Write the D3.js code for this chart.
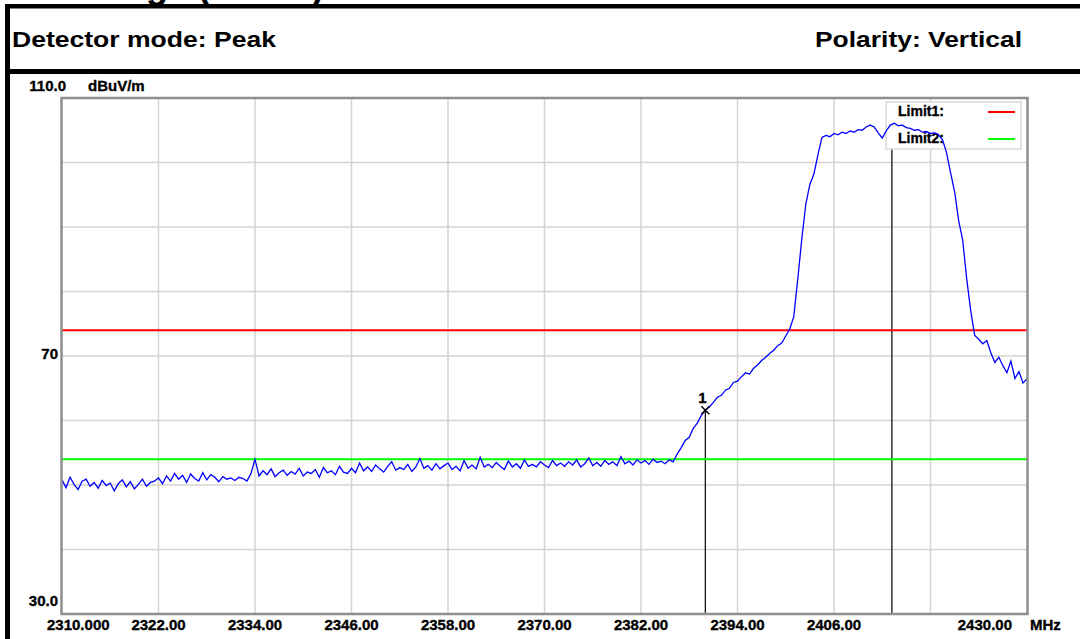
<!DOCTYPE html>
<html>
<head>
<meta charset="utf-8">
<script src="https://cdn.jsdelivr.net/npm/d3@7"></script>
<style>
  body { margin: 0; background: #ffffff; }
  svg { display: block; }
  .hdr { font-family: "Liberation Sans", Arial, sans-serif; font-weight: bold; fill: #000; }
  .axis-txt { font-family: "Liberation Sans", Arial, sans-serif; font-weight: bold; font-size: 15px; fill: #000; stroke: #000; stroke-width: 0.35px; }
</style>
</head>
<body>
<svg id="chart" width="1080" height="639"></svg>
<script>
// Trace: peak detector readings, one every 0.5 MHz from 2310 MHz
const freqStart = 2310;
const freqStep = 0.5;
const traceLevels = [
  // 2310.0 - 2321.5
  50.8, 49.6, 51.2, 50.1, 49.3, 50.6, 50.9, 49.8, 50.4, 49.5, 50.7, 49.9, 50.3, 49.1, 50.2, 50.8, 49.7, 50.5, 49.4, 50.1, 50.9, 49.8, 50.4, 50.6,
  // 2322.0 - 2333.5
  51.1, 50.2, 51.4, 50.6, 51.8, 50.9, 51.5, 50.4, 51.7, 51.0, 50.6, 51.9, 50.8, 51.6, 51.2, 50.5, 51.3, 50.9, 51.1, 50.7, 51.2, 51.0, 50.6, 51.8,
  // 2334.0 - 2345.5
  54.0, 51.4, 52.2, 51.6, 52.5, 51.3, 51.9, 52.3, 51.5, 52.1, 51.7, 52.6, 51.4, 52.0, 51.8, 52.4, 51.2, 52.7, 51.9, 52.2, 51.6, 52.9, 52.0, 51.8,
  // 2346.0 - 2357.5
  52.6, 51.9, 53.4, 52.2, 52.8, 52.1, 53.1, 52.5, 52.0, 52.9, 53.6, 52.3, 52.7, 52.4, 53.2, 52.1, 52.8, 54.1, 52.6, 53.0, 52.3, 53.3, 52.5, 53.0,
  // 2358.0 - 2369.5
  53.4, 52.4, 52.9, 52.2, 53.8, 52.6, 53.1, 52.5, 54.3, 52.8, 53.2, 52.7, 53.5, 52.9, 52.4, 53.7, 52.8, 53.3, 52.6, 53.9, 52.9, 53.2, 52.8, 53.6,
  // 2370.0 - 2381.5
  53.1, 52.7, 53.8, 53.0, 53.4, 52.9, 53.6, 53.1, 53.9, 52.8, 53.3, 54.2, 53.0, 53.5, 52.9, 53.8, 53.2, 53.6, 53.0, 54.4, 53.3, 53.7, 53.1, 53.9,
  // 2382.0 - 2393.5
  53.4, 53.8, 53.2, 54.0, 53.5, 53.7, 53.3, 53.9, 53.6, 54.8, 55.8, 56.9, 57.4, 58.8, 59.6, 60.8, 61.6, 62.1, 62.8, 63.6, 63.9, 64.7, 65.0, 65.9,
  // 2394.0 - 2405.5
  66.1, 66.8, 67.4, 67.2, 68.1, 68.6, 69.3, 69.8, 70.4, 70.9, 71.6, 72.0, 73.1, 74.2, 76.1, 82.0, 88.2, 93.6, 96.6, 98.2, 101.2, 103.9, 104.2, 104.0,
  // 2406.0 - 2417.5
  104.5, 104.3, 104.7, 104.5, 104.9, 104.7, 105.1, 105.0, 105.5, 105.8, 105.5, 104.6, 103.8, 104.9, 105.8, 106.1, 105.7, 105.8, 105.4, 105.3, 105.0, 105.1, 104.7, 104.8,
  // 2418.0 - 2429.5
  104.5, 104.6, 104.3, 103.5, 101.5, 98.4, 95.5, 91.0, 88.0, 82.0, 77.0, 73.2, 72.6, 71.9, 72.4, 70.5, 69.0, 69.8, 68.5, 67.4, 69.2, 66.5, 67.6, 65.8,
  // 2430.0
  66.5
];

// Limit lines
const limitNames = ["Limit1:", "Limit2:"];
const limitValues = [74, 54];

// Markers (MHz)
const markerFreqs = [2390, 2413.2];
const markerNames = ["1", ""];

// Axis ticks
const xTickValues = [2310, 2322, 2334, 2346, 2358, 2370, 2382, 2394, 2406, 2418, 2430];
const xTickLabels = ["2310.000", "2322.00", "2334.00", "2346.00", "2358.00", "2370.00", "2382.00", "2394.00", "2406.00", "", "2430.00"];
const yTickValues = [30, 40, 50, 60, 70, 80, 90, 100, 110];
const yLabelValues = [110, 70, 30];
const yLabelTexts = ["110.0", "70", "30.0"];

// Header texts
const titleText = "Band Edge (CH 01)";
const detectorText = "Detector mode: Peak";
const polarityText = "Polarity: Vertical";

const limitColors = ["#ff0000", "#00ff00"];

function draw_chart() {

    let svg = d3.select('#chart');

    // plot area
    let left = 62, right = 1027, top = 98, bottom = 614;

    let xScale = d3.scaleLinear().domain([2310, 2430]).range([left, right]);
    let yScale = d3.scaleLinear().domain([30, 110]).range([bottom, top]);

    let traceData = traceLevels.map((v, i) => ({ f: freqStart + i * freqStep, v: v }));

    // ---- header boxes ----
    // title line sits above the page edge, only its lower part shows
    svg.append('text')
        .attr('class', 'hdr')
        .attr('x', 0).attr('y', -2)
        .attr('font-size', 36)
        .text(titleText);

    svg.append('rect').attr('x', 5).attr('y', 4).attr('width', 1080).attr('height', 4.5).attr('fill', '#000');
    svg.append('rect').attr('x', 5).attr('y', 69).attr('width', 1080).attr('height', 5).attr('fill', '#000');
    svg.append('rect').attr('x', 5).attr('y', 4).attr('width', 5).attr('height', 640).attr('fill', '#000');

    svg.append('text')
        .attr('class', 'hdr')
        .attr('x', 12).attr('y', 47)
        .attr('font-size', 22)
        .attr('textLength', 264)
        .attr('lengthAdjust', 'spacingAndGlyphs')
        .text(detectorText);

    svg.append('text')
        .attr('class', 'hdr')
        .attr('x', 815).attr('y', 47)
        .attr('font-size', 22)
        .attr('textLength', 207)
        .attr('lengthAdjust', 'spacingAndGlyphs')
        .text(polarityText);

    // ---- plot background + grid ----
    svg.append('rect')
        .attr('x', left).attr('y', top)
        .attr('width', right - left).attr('height', bottom - top)
        .attr('fill', '#ffffff');

    svg.append('g')
        .selectAll('line')
        .data(xTickValues.slice(1, -1))
        .join('line')
        .attr('x1', d => xScale(d)).attr('x2', d => xScale(d))
        .attr('y1', top).attr('y2', bottom)
        .attr('stroke', '#d6d3ce')
        .attr('stroke-width', 1.5);

    svg.append('g')
        .selectAll('line')
        .data(yTickValues.slice(1, -1))
        .join('line')
        .attr('x1', left).attr('x2', right)
        .attr('y1', d => yScale(d)).attr('y2', d => yScale(d))
        .attr('stroke', '#d6d3ce')
        .attr('stroke-width', 1.5);

    // ---- marker lines (behind legend) ----
    svg.append('g')
        .selectAll('line')
        .data(markerFreqs)
        .join('line')
        .attr('x1', d => xScale(d)).attr('x2', d => xScale(d))
        .attr('y1', d => yScale(valueAt(traceData, d))).attr('y2', bottom)
        .attr('stroke', '#000').attr('stroke-width', 1.2);

    // ---- limit lines ----
    svg.append('g')
        .selectAll('line')
        .data(limitValues)
        .join('line')
        .attr('x1', left).attr('x2', right)
        .attr('y1', d => yScale(d)).attr('y2', d => yScale(d))
        .attr('stroke', (d, i) => limitColors[i])
        .attr('stroke-width', 2);

    // ---- legend box ----
    let legend = svg.append('g').attr('transform', 'translate(886,102)');
    legend.append('rect')
        .attr('width', 135).attr('height', 47)
        .attr('fill', '#ffffff')
        .attr('stroke', '#dcdad5')
        .attr('stroke-width', 1.5);

    legend.selectAll('text')
        .data(limitNames)
        .join('text')
        .attr('class', 'axis-txt')
        .style('font-size', '14px')
        .attr('x', 12)
        .attr('y', (d, i) => 14 + i * 27)
        .text(d => d);

    legend.selectAll('line')
        .data(limitNames)
        .join('line')
        .attr('x1', 102).attr('x2', 129)
        .attr('y1', (d, i) => 10 + i * 27).attr('y2', (d, i) => 10 + i * 27)
        .attr('stroke', (d, i) => limitColors[i])
        .attr('stroke-width', 2);

    // ---- trace ----
    let line = d3.line()
        .x(d => xScale(d.f))
        .y(d => yScale(d.v));

    svg.append('path')
        .datum(traceData)
        .attr('d', line)
        .attr('fill', 'none')
        .attr('stroke', '#0000ff')
        .attr('stroke-width', 1.3);

    // ---- marker 1 symbol ----
    let mx = xScale(markerFreqs[0]);
    let my = yScale(valueAt(traceData, markerFreqs[0]));
    svg.append('path')
        .attr('d', `M${mx - 4},${my - 4}L${mx + 4},${my + 4}M${mx + 4},${my - 4}L${mx - 4},${my + 4}`)
        .attr('stroke', '#000')
        .attr('stroke-width', 1.5);
    svg.append('text')
        .attr('class', 'axis-txt')
        .attr('x', mx - 3).attr('y', my - 7)
        .attr('text-anchor', 'middle')
        .text(markerNames[0]);

    // ---- frame ----
    svg.append('rect')
        .attr('x', left - 0.5).attr('y', top)
        .attr('width', right - left + 1).attr('height', bottom - top)
        .attr('fill', 'none')
        .attr('stroke', '#8e8e8e')
        .attr('stroke-width', 2.5);

    // ---- axis labels ----
    svg.append('g')
        .selectAll('text')
        .data(xTickValues)
        .join('text')
        .attr('class', 'axis-txt')
        .attr('x', (d, i) => i === 0 ? 47 : (i === xTickValues.length - 1 ? 1012 : xScale(d)))
        .attr('y', 630)
        .attr('text-anchor', (d, i) => i === 0 ? 'start' : (i === xTickValues.length - 1 ? 'end' : 'middle'))
        .text((d, i) => xTickLabels[i]);

    svg.append('text')
        .attr('class', 'axis-txt')
        .attr('x', 1030).attr('y', 630)
        .text('MHz');

    svg.append('g')
        .selectAll('text')
        .data(yLabelValues)
        .join('text')
        .attr('class', 'axis-txt')
        .attr('x', (d, i) => i === 0 ? 66 : 58)
        .attr('y', (d, i) => i === 0 ? yScale(d) - 7 : (i === 1 ? yScale(d) + 3 : yScale(d) - 8))
        .attr('text-anchor', 'end')
        .text((d, i) => yLabelTexts[i]);

    svg.append('text')
        .attr('class', 'axis-txt')
        .attr('x', 88).attr('y', yScale(110) - 7)
        .text('dBuV/m');

} // end of draw_chart()


// linear lookup of trace level at a frequency
function valueAt(data, f) {
    let i = Math.floor((f - freqStart) / freqStep);
    if (i >= data.length - 1) return data[data.length - 1].v;
    let t = (f - data[i].f) / freqStep;
    return data[i].v + t * (data[i + 1].v - data[i].v);
}

draw_chart();
</script>
</body>
</html>
